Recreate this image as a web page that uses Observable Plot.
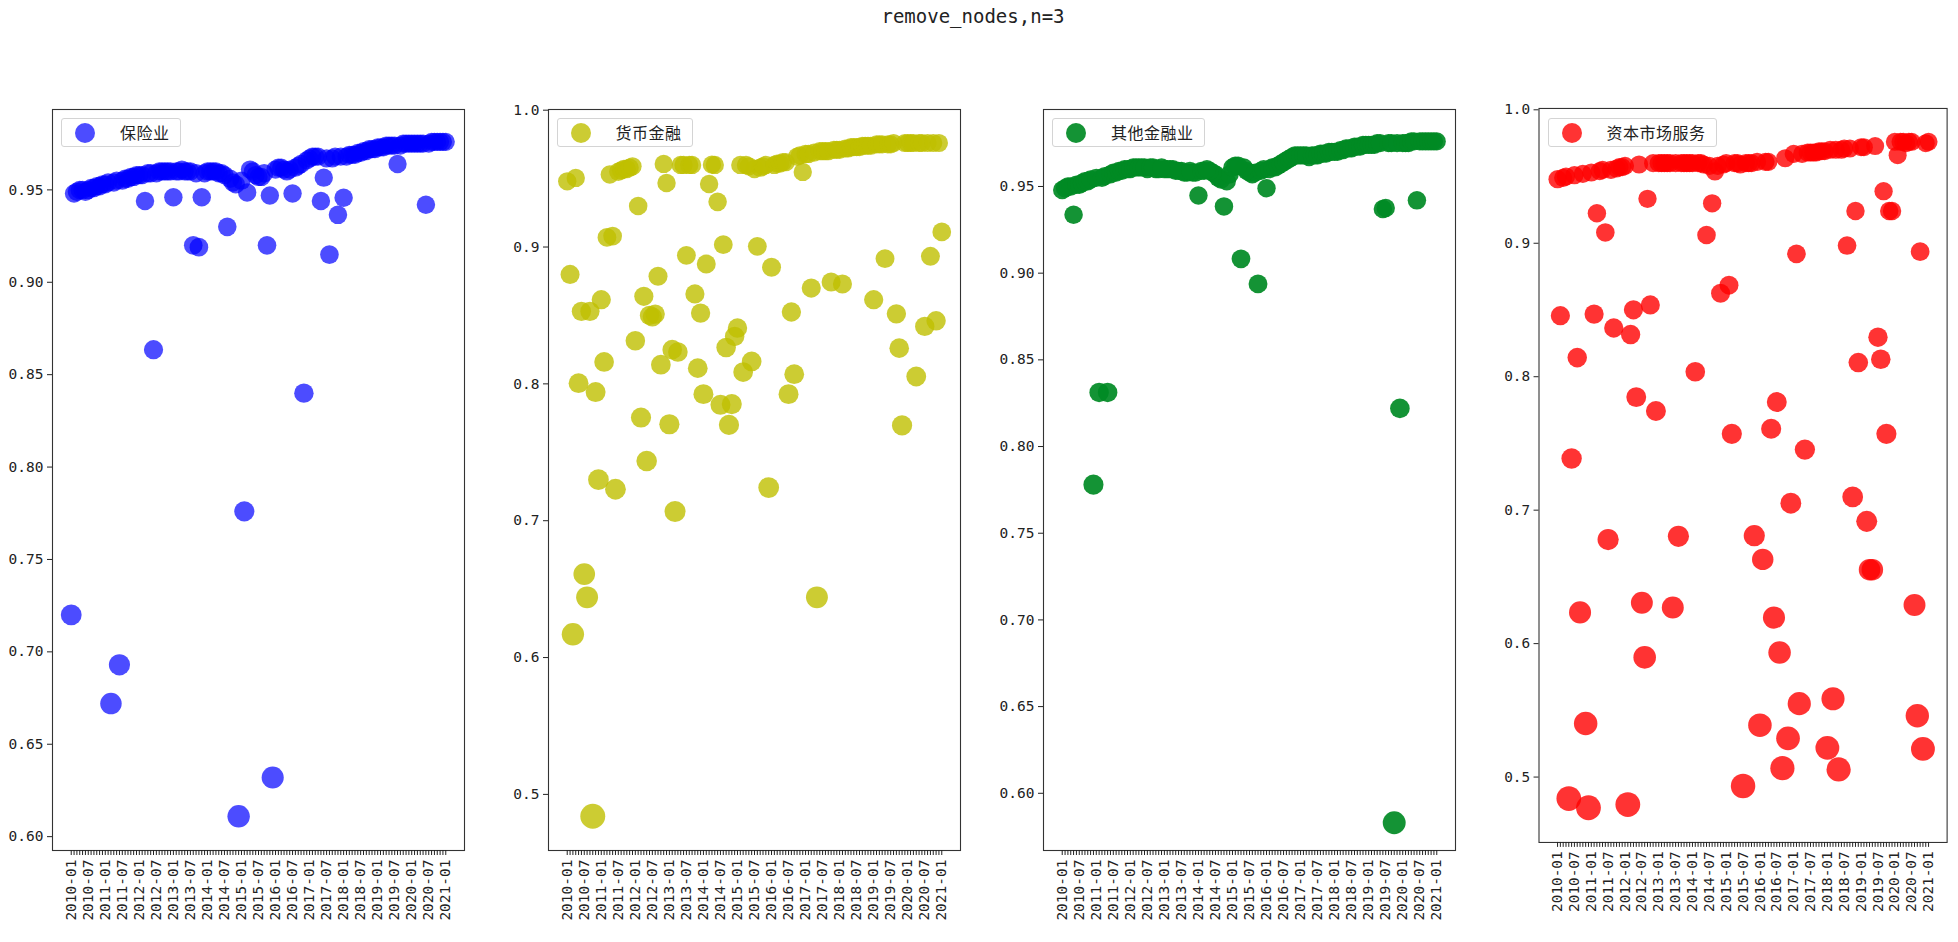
<!DOCTYPE html>
<html><head><meta charset="utf-8">
<script src="https://cdn.jsdelivr.net/npm/d3@7"></script>
<script src="https://cdn.jsdelivr.net/npm/@observablehq/plot@0.6"></script>
<style>
body{margin:0;background:#fff;}
#root{position:relative;width:1958px;height:942px;overflow:hidden;font-family:"DejaVu Sans Mono",monospace;}
.title{position:absolute;left:-6px;width:1958px;top:5px;text-align:center;font-size:19px;color:#222;font-family:"DejaVu Sans Mono",monospace;}
.panel{position:absolute;top:0;}
.legend{position:absolute;top:118px;height:29px;box-sizing:border-box;border:1px solid #d4d4d4;border-radius:3px;background:rgba(255,255,255,0.85);padding:0 10px 0 58px;line-height:27px;white-space:nowrap;}
.legend .mk{position:absolute;left:13px;top:3.5px;width:20px;height:20px;border-radius:50%;}
.legend .lb{font-family:"Noto Sans CJK SC",sans-serif;font-size:16px;letter-spacing:0.5px;color:#222;}
</style></head><body><div id="root"><div class="title">remove_nodes,n=3</div></div>
<script>
// categories: months 2010-01 .. 2021-01
const months = [];
for (let y = 2010; y <= 2021; y++) for (let m = 1; m <= 12; m++) { if (y === 2021 && m > 1) break; months.push(y + "-" + String(m).padStart(2, "0")); }
const tickLabels = ["2010-01","2010-07","2011-01","2011-07","2012-01","2012-07","2013-01","2013-07","2014-01","2014-07","2015-01","2015-07","2016-01","2016-07","2017-01","2017-07","2018-01","2018-07","2019-01","2019-07","2020-01","2020-07","2021-01"];
const seriesNames = ["保险业", "货币金融", "其他金融业", "资本市场服务"];

const insurance = [
0.720,0.948,0.949,0.950,0.950,0.949,0.950,0.951,0.951,0.952,
0.952,0.953,0.953,0.954,0.672,0.954,0.955,0.693,0.955,0.956,
0.956,0.957,0.957,0.958,0.958,0.958,0.944,0.959,0.959,0.8635,
0.959,0.960,0.960,0.960,0.960,0.960,0.946,0.960,0.960,0.961,
0.960,0.960,0.960,0.920,0.959,0.919,0.946,0.959,0.960,0.960,
0.960,0.960,0.959,0.959,0.958,0.930,0.956,0.954,0.953,0.611,
0.955,0.776,0.9486,0.961,0.960,0.958,0.957,0.957,0.959,0.920,
0.947,0.632,0.961,0.962,0.962,0.961,0.960,0.961,0.948,0.962,
0.963,0.964,0.840,0.966,0.967,0.968,0.968,0.968,0.944,0.9566,
0.967,0.915,0.967,0.968,0.9365,0.968,0.9457,0.968,0.969,0.969,
0.969,0.970,0.970,0.971,0.971,0.972,0.972,0.972,0.973,0.973,
0.973,0.974,0.974,0.974,0.974,0.964,0.974,0.975,0.975,0.975,
0.975,0.975,0.975,0.975,0.975,0.942,0.975,0.976,0.976,0.976,
0.976,0.976,0.976];

const monetary = [
0.948,0.880,0.617,0.9505,0.8005,0.853,0.661,0.644,0.853,0.484,
0.794,0.730,0.8615,0.816,0.907,0.953,0.908,0.723,0.955,0.956,
0.957,0.957,0.958,0.959,0.8315,0.930,0.7754,0.864,0.7437,0.850,
0.849,0.851,0.8786,0.814,0.9607,0.9468,0.7705,0.825,0.7067,0.8233,
0.960,0.960,0.8939,0.960,0.960,0.8657,0.8115,0.8517,0.7925,0.8876,
0.9461,0.9602,0.960,0.933,0.7847,0.9017,0.8266,0.770,0.7852,0.8347,
0.8408,0.960,0.8086,0.960,0.959,0.8164,0.957,0.9005,0.958,0.959,
0.960,0.7242,0.8852,0.960,0.961,0.961,0.962,0.962,0.7925,0.8525,
0.8071,0.966,0.967,0.9549,0.968,0.968,0.870,0.969,0.644,0.970,
0.970,0.970,0.970,0.8744,0.971,0.971,0.971,0.873,0.972,0.972,
0.973,0.973,0.973,0.973,0.974,0.974,0.974,0.974,0.8615,0.975,
0.975,0.975,0.8915,0.975,0.975,0.976,0.8512,0.8261,0.7696,0.976,
0.976,0.976,0.976,0.8054,0.976,0.976,0.842,0.976,0.8932,0.976,
0.8461,0.976,0.911];

const otherFin = [
0.948,0.949,0.950,0.950,0.9337,0.951,0.951,0.952,0.953,0.953,
0.954,0.778,0.955,0.8312,0.955,0.956,0.8312,0.957,0.958,0.958,
0.959,0.959,0.960,0.960,0.960,0.961,0.961,0.961,0.961,0.961,
0.960,0.961,0.961,0.960,0.960,0.961,0.960,0.960,0.960,0.960,
0.959,0.959,0.959,0.958,0.958,0.959,0.958,0.958,0.9448,0.959,
0.959,0.960,0.959,0.958,0.957,0.955,0.954,0.9385,0.953,0.957,
0.961,0.962,0.962,0.9083,0.961,0.959,0.958,0.957,0.958,0.8938,
0.959,0.960,0.949,0.960,0.961,0.961,0.962,0.963,0.964,0.965,
0.966,0.967,0.968,0.968,0.968,0.968,0.968,0.967,0.968,0.968,
0.968,0.969,0.969,0.969,0.970,0.970,0.970,0.970,0.971,0.971,
0.972,0.972,0.972,0.973,0.973,0.973,0.974,0.974,0.974,0.974,
0.974,0.975,0.975,0.937,0.9376,0.975,0.975,0.583,0.975,0.822,
0.975,0.975,0.975,0.976,0.976,0.942,0.976,0.976,0.976,0.976,
0.976,0.976,0.976];

const capital = [
0.948,0.8457,0.949,0.950,0.4839,0.7387,0.951,0.8143,0.6234,0.952,
0.5401,0.477,0.953,0.8469,0.9225,0.954,0.955,0.9081,0.678,0.955,
0.8365,0.956,0.957,0.957,0.958,0.4794,0.8316,0.8501,0.7847,0.959,
0.6306,0.5897,0.9333,0.8538,0.960,0.7743,0.960,0.960,0.960,0.960,
0.960,0.6271,0.960,0.6804,0.960,0.960,0.960,0.960,0.960,0.8037,
0.960,0.960,0.959,0.9062,0.958,0.9299,0.9538,0.958,0.8625,0.959,
0.960,0.8686,0.7572,0.960,0.960,0.959,0.4933,0.960,0.960,0.960,
0.6809,0.961,0.5389,0.6631,0.961,0.961,0.761,0.6195,0.781,0.5934,
0.5067,0.9637,0.529,0.7052,0.967,0.8921,0.555,0.967,0.7454,0.968,
0.968,0.968,0.968,0.969,0.969,0.969,0.5219,0.970,0.5587,0.970,
0.5057,0.970,0.971,0.8983,0.971,0.7099,0.9242,0.8106,0.972,0.972,
0.6916,0.6554,0.6554,0.9728,0.8296,0.8131,0.939,0.7572,0.9242,0.9242,
0.976,0.966,0.976,0.976,0.975,0.976,0.976,0.6289,0.5459,0.8938,
0.5211,0.975,0.976];

const yTicks2 = [0.60,0.65,0.70,0.75,0.80,0.85,0.90,0.95];
const yTicks1 = [0.5,0.6,0.7,0.8,0.9,1.0];

const panels = [
  {name: seriesNames[0], values: insurance, left: 52,    domain: [0.5925, 0.9935], ticks: yTicks2, fmt: ".2f", color: "#0000ff", opacity: 0.7},
  {name: seriesNames[1], values: monetary,  left: 547.5, domain: [0.459, 1.0005],  ticks: yTicks1, fmt: ".1f", color: "#bfbf00", opacity: 0.8},
  {name: seriesNames[2], values: otherFin,  left: 1043,  domain: [0.567, 0.9944],  ticks: yTicks2, fmt: ".2f", color: "#008a24", opacity: 0.92},
  {name: seriesNames[3], values: capital,   left: 1538.5,domain: [0.451, 1.001],   ticks: yTicks1, fmt: ".1f", color: "#ff0000", opacity: 0.8}
];

const root = document.getElementById("root");
const labelSet = new Set(tickLabels);
for (const p of panels) {
  const data = months.map((m, i) => ({month: m, value: p.values[i]}));
  const chart = Plot.plot({
    width: 52 + 412 + 12, height: 942,
    marginLeft: 52, marginRight: 12, marginTop: 109, marginBottom: 92,
    style: {fontFamily: "DejaVu Sans Mono", fontSize: "14.5px", color: "#222", background: "transparent", overflow: "visible"},
    x: {type: "point", domain: months, padding: 6.6, label: null},
    y: {domain: p.domain, label: null},
    r: {type: "identity"},
    marks: [
      Plot.dot(data, {x: "month", y: "value", r: d => 9.2 * Math.pow(0.95 / d.value, 0.45), fill: p.color, fillOpacity: p.opacity, stroke: "none"}),
      Plot.frame({stroke: "#333", strokeWidth: 1.1}),
      Plot.axisY({ticks: p.ticks, tickFormat: d3.format(p.fmt), tickSize: 5, tickPadding: 4, label: null}),
      Plot.axisX({ticks: months, tickSize: 5, tickPadding: 4, tickRotate: -90, label: null, tickFormat: d => labelSet.has(d) ? d : ""})
    ]
  });
  const wrap = document.createElement("div");
  wrap.className = "panel";
  wrap.style.left = (p.left - 52) + "px";
  wrap.appendChild(chart);
  root.appendChild(wrap);

  const lg = document.createElement("div");
  lg.className = "legend";
  lg.style.left = (p.left + 9) + "px";
  const mk = document.createElement("div");
  mk.className = "mk";
  mk.style.background = p.color;
  mk.style.opacity = p.opacity;
  const lb = document.createElement("span");
  lb.className = "lb";
  lb.textContent = p.name;
  lg.appendChild(mk); lg.appendChild(lb);
  root.appendChild(lg);
}
</script></body></html>
